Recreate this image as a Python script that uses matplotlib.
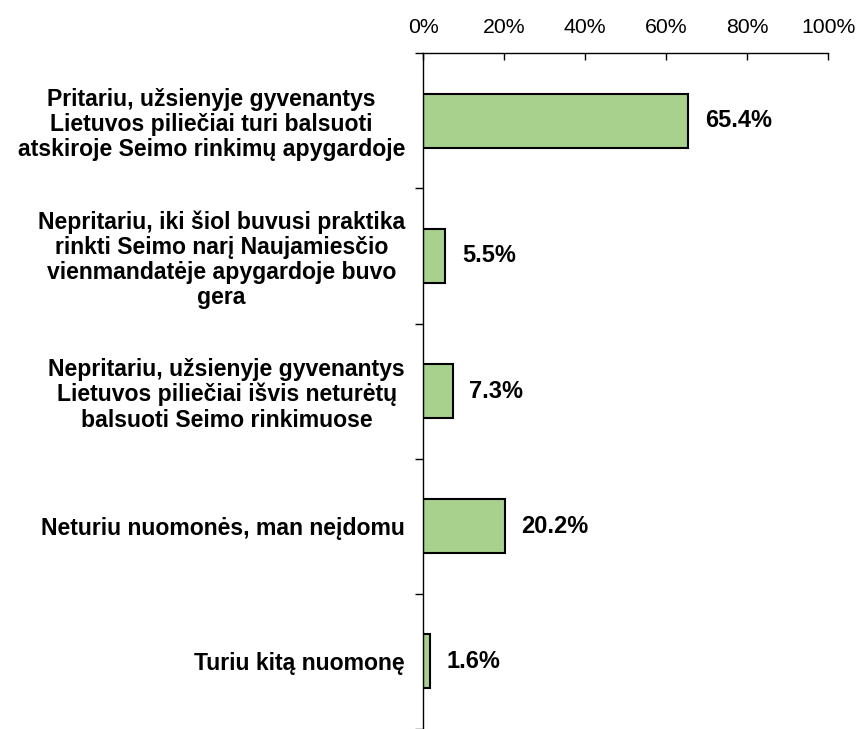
import numpy as np
import matplotlib
matplotlib.use("Agg")
import matplotlib.pyplot as plt
from matplotlib.ticker import FixedLocator, PercentFormatter

plt.rcParams['font.family'] = ['Liberation Sans', 'DejaVu Sans']

# Survey answers (top to bottom) and shares in %
categories = [
    "Pritariu, užsienyje gyvenantys\nLietuvos piliečiai turi balsuoti\natskiroje Seimo rinkimų apygardoje",
    "Nepritariu, iki šiol buvusi praktika\nrinkti Seimo narį Naujamiesčio\nvienmandatėje apygardoje buvo\ngera",
    "Nepritariu, užsienyje gyvenantys\nLietuvos piliečiai išvis neturėtų\nbalsuoti Seimo rinkimuose",
    "Neturiu nuomonės, man neįdomu",
    "Turiu kitą nuomonę",
]
values = [65.4, 5.5, 7.3, 20.2, 1.6]
x_ticks = [0, 20, 40, 60, 80, 100]

fig = plt.figure(figsize=(8.6, 7.29), dpi=100)
ax = fig.add_axes([0.492, 0.0, 0.471, 0.927])

pos = np.arange(len(categories))
ax.barh(pos, values, height=0.4, color='#a9d18e', edgecolor='black', linewidth=1.5)

for p, v in zip(pos, values):
    ax.annotate(f"{v:.1f}%", (v, p), xytext=(12, 0), textcoords='offset points',
                va='center', ha='left', fontsize=17, fontweight='bold')

ax.set_xlim(0, 100)
ax.set_ylim(len(categories) - 0.5, -0.5)
ax.xaxis.tick_top()
ax.set_xticks(x_ticks)
ax.xaxis.set_major_formatter(PercentFormatter(decimals=0))
ax.tick_params(axis='x', direction='in', length=5, width=1, labelsize=15.3, pad=12)

# category boundaries get tick marks, centres get the labels
ax.yaxis.set_major_locator(FixedLocator(np.arange(-0.5, len(categories), 1.0)))
ax.yaxis.set_major_formatter(plt.NullFormatter())
ax.yaxis.set_minor_locator(FixedLocator(pos))
ax.set_yticklabels(categories, minor=True)
ax.tick_params(axis='y', which='major', direction='out', length=6, width=1)
ax.tick_params(axis='y', which='minor', length=0, pad=13, labelsize=16.6)
for lbl in ax.get_yticklabels(minor=True):
    lbl.set_fontweight('bold')
    lbl.set_multialignment('center')
    lbl.set_linespacing(1.12)

for side in ['right', 'bottom']:
    ax.spines[side].set_visible(False)
ax.spines['top'].set_linewidth(1)
ax.spines['left'].set_linewidth(1)

fig.savefig("out.png", dpi=100)
